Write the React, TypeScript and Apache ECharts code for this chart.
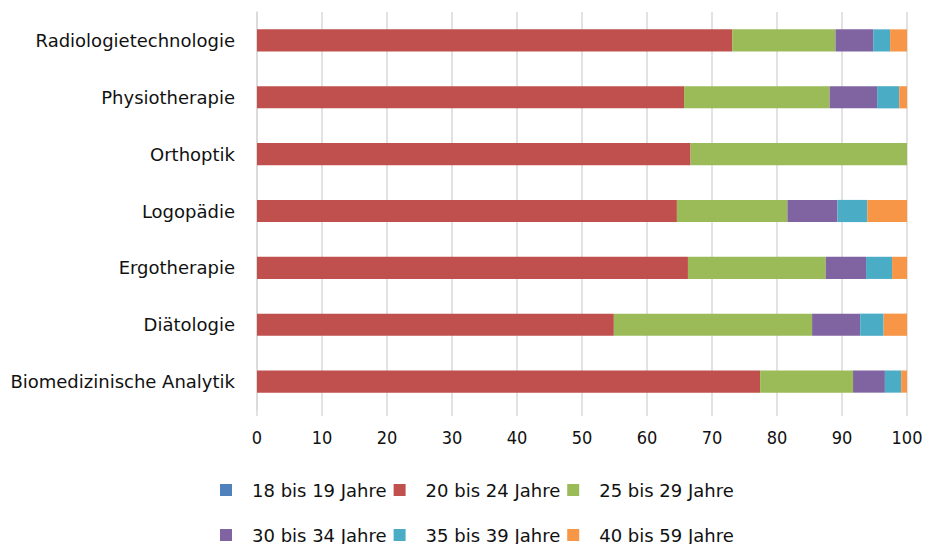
import React, { useEffect, useRef } from "react";
import * as echarts from "echarts";

const categories = [
  "Radiologietechnologie",
  "Physiotherapie",
  "Orthoptik",
  "Logopädie",
  "Ergotherapie",
  "Diätologie",
  "Biomedizinische Analytik",
];
const seriesNames = [
  "18 bis 19 Jahre",
  "20 bis 24 Jahre",
  "25 bis 29 Jahre",
  "30 bis 34 Jahre",
  "35 bis 39 Jahre",
  "40 bis 59 Jahre",
];
const age18to19 = [0, 0, 0, 0, 0, 0, 0];
const age20to24 = [73.1, 65.7, 66.7, 64.6, 66.3, 54.9, 77.4];
const age25to29 = [15.9, 22.4, 33.3, 17.0, 21.2, 30.5, 14.3];
const age30to34 = [5.8, 7.3, 0, 7.7, 6.2, 7.4, 4.9];
const age35to39 = [2.6, 3.4, 0, 4.6, 4.0, 3.6, 2.5];
const age40to59 = [2.6, 1.2, 0, 6.1, 2.3, 3.6, 0.9];
const xTicks = [0, 10, 20, 30, 40, 50, 60, 70, 80, 90, 100];

const colors = ["#4f81bd", "#c0504d", "#9bbb59", "#8064a2", "#4bacc6", "#f79646"];
const allData = [age18to19, age20to24, age25to29, age30to34, age35to39, age40to59];

export default function App() {
  const ref = useRef<HTMLDivElement>(null);
  useEffect(() => {
    if (!ref.current) return;
    const chart = echarts.init(ref.current, undefined, { renderer: "svg" });
    const font = "DejaVu Sans";
    const legendCommon = {
      left: 220,
      padding: 0,
      orient: "horizontal" as const,
      itemWidth: 12,
      itemHeight: 12,
      itemGap: 7,
      icon: "rect",
      textStyle: { fontFamily: font, fontSize: 18, color: "#111", padding: [0, 0, 0, 15] },
    };
    chart.setOption({
      animation: false,
      color: colors,
      grid: { left: 257, right: 20, top: 12, bottom: 134, containLabel: false },
      legend: [
        { ...legendCommon, top: 481, data: seriesNames.slice(0, 3) },
        { ...legendCommon, top: 526, data: seriesNames.slice(3, 6) },
      ],
      xAxis: {
        type: "value",
        min: xTicks[0],
        max: xTicks[xTicks.length - 1],
        interval: 10,
        axisLine: { show: false },
        axisTick: { show: true, length: 6, lineStyle: { color: "#d9d9d9", width: 1.5 } },
        splitLine: { show: true, lineStyle: { color: "#d9d9d9", width: 1.5 } },
        axisLabel: { fontFamily: "DejaVu Sans Condensed, DejaVu Sans", fontSize: 18, color: "#111", margin: 18 },
      },
      yAxis: {
        type: "category",
        data: categories,
        inverse: true,
        axisLine: { show: true, lineStyle: { color: "#d9d9d9", width: 1.5 } },
        axisTick: { show: false },
        axisLabel: { fontFamily: font, fontSize: 18, color: "#111", margin: 22 },
      },
      series: seriesNames.map((name, i) => ({
        name,
        type: "bar",
        stack: "total",
        barWidth: "39%",
        data: allData[i],
        itemStyle: { color: colors[i] },
      })),
    });
    return () => chart.dispose();
  }, []);
  return <div ref={ref} style={{ position: "absolute", left: 0, top: 0, width: 927, height: 544 }} />;
}
